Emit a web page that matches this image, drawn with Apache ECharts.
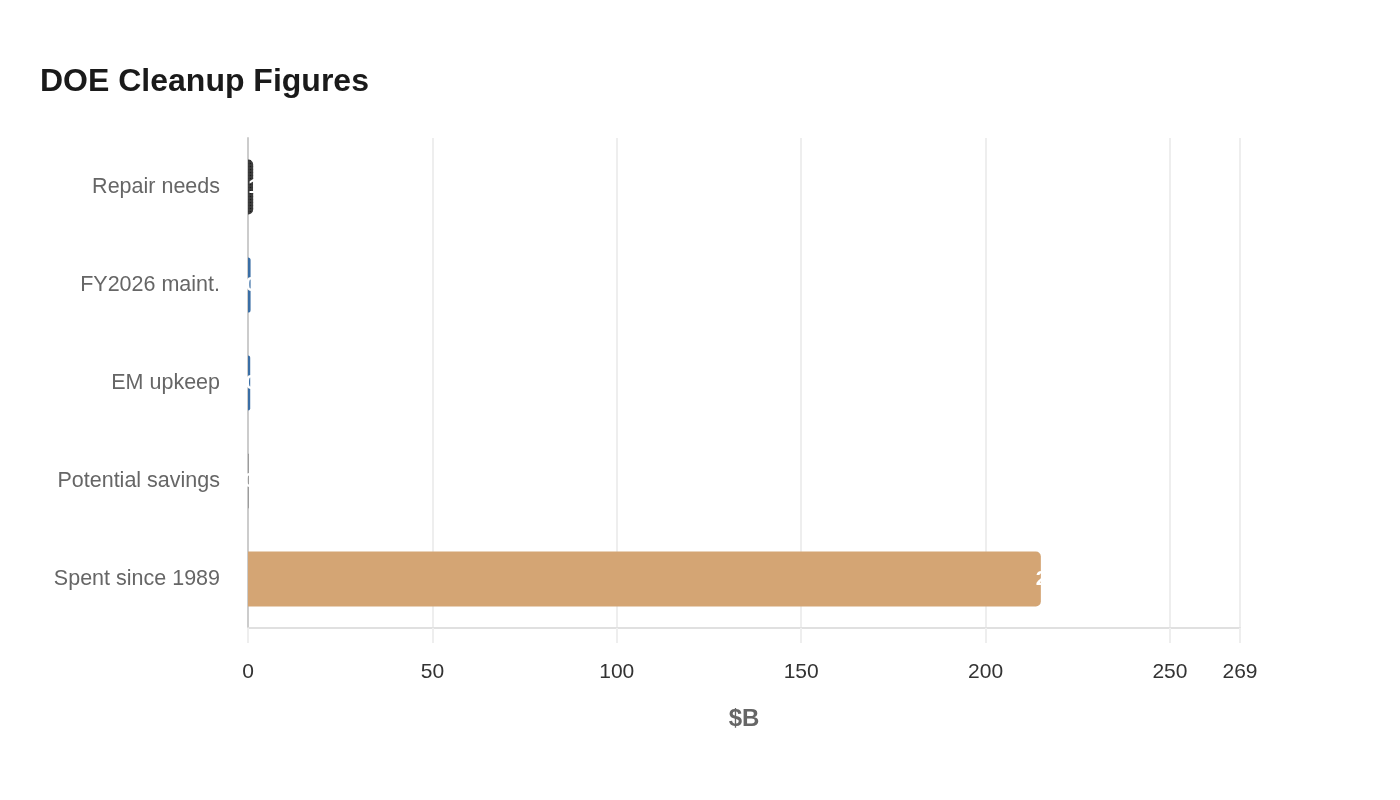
<!DOCTYPE html>
<html>
<head>
<meta charset="utf-8">
<script src="https://cdn.jsdelivr.net/npm/echarts@6/dist/echarts.min.js"></script>
<style>
  html, body { margin: 0; padding: 0; background: #fff; }
  #ch-main { width: 1400px; height: 800px; }
</style>
</head>
<body>
<div id="ch-main"></div>
<script>
let main = echarts.init(document.getElementById('ch-main'));

// data, bottom to top
let categories = ['Spent since 1989', 'Potential savings', 'EM upkeep', 'FY2026 maint.', 'Repair needs']
let values = [215, 0.2, 0.6, 0.7, 1.4]
let barColors = ['#d4a574', '#8c8c8c', '#3a6ea5', '#3a6ea5', '#3d3d3d']
let xTicks = [0, 50, 100, 150, 200, 250, 269]

let barData = values.map(function (v, i) {
    let item = { value: v, itemStyle: { color: barColors[i] } }
    if (i === 4) {
        item.itemStyle.decal = {
            symbol: 'circle',
            symbolSize: 0.5,
            dashArrayX: [3, 0],
            dashArrayY: [3, 0],
            color: 'rgba(0,0,0,0.55)'
        }
    }
    return item
})

let option = {
    backgroundColor: '#ffffff',
    title: {
        text: 'DOE Cleanup Figures',
        left: 35,
        top: 61,
        textStyle: { fontFamily: 'Liberation Sans', fontSize: 32, fontWeight: 'bold', color: '#1a1a1a' }
    },
    grid: { left: 248, right: 160, top: 138, bottom: 172, containLabel: false },
    xAxis: {
        type: 'value',
        min: 0,
        max: xTicks[xTicks.length - 1],
        interval: 50,
        name: '$B',
        nameLocation: 'middle',
        nameGap: 79,
        nameTextStyle: { fontFamily: 'Liberation Sans', fontSize: 24, fontWeight: 'bold', color: '#666' },
        axisLine: { show: true, lineStyle: { color: '#e0e0e0', width: 2 } },
        axisTick: { show: true, length: 15, lineStyle: { color: '#eeeeee', width: 2 } },
        axisLabel: { margin: 34, fontFamily: 'Liberation Sans', fontSize: 21, color: '#333' },
        splitLine: { show: true, lineStyle: { color: '#eeeeee', width: 2 } }
    },
    yAxis: {
        type: 'category',
        data: categories,
        axisLine: { show: true, lineStyle: { color: '#cccccc', width: 2 } },
        axisTick: { show: false },
        axisLabel: {
            margin: 28,
            padding: [5, 0, 0, 0],
            backgroundColor: 'rgba(255,255,255,0)',
            fontFamily: 'Liberation Sans',
            fontSize: 21.5,
            color: '#666'
        }
    },
    series: [
        {
            type: 'bar',
            data: barData,
            barWidth: 55,
            itemStyle: { borderRadius: [0, 5, 5, 0] },
            label: {
                show: true,
                position: 'right',
                distance: -5,
                color: '#ffffff',
                fontFamily: 'Liberation Sans',
                fontSize: 21,
                fontWeight: 'bold'
            }
        }
    ],
    animation: false
};

main.setOption(option);
</script>
</body>
</html>
